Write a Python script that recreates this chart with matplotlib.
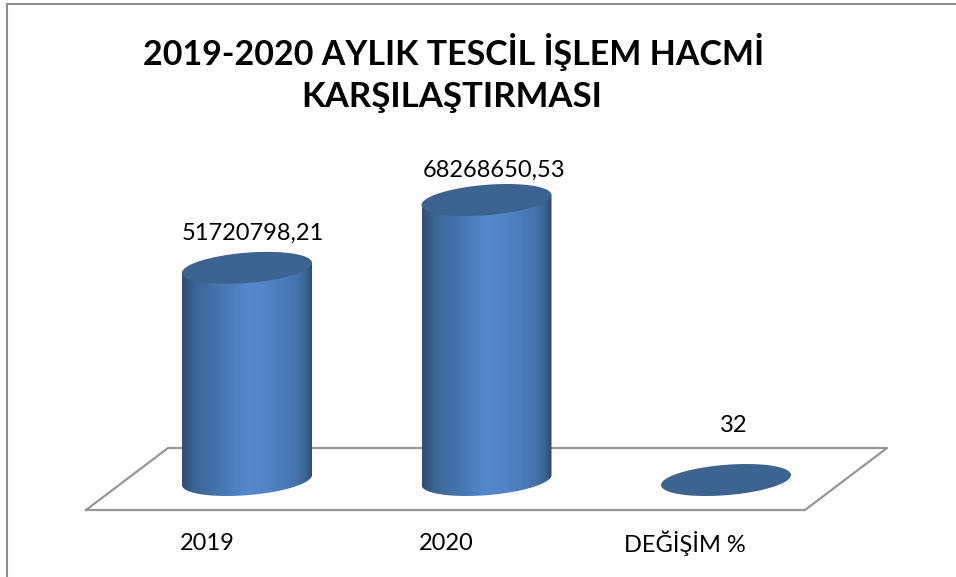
import numpy as np
import matplotlib
matplotlib.use("Agg")
import matplotlib.pyplot as plt
from matplotlib.colors import LinearSegmentedColormap
from matplotlib.patches import PathPatch
from matplotlib.path import Path

categories = ["2019", "2020", "DEĞİŞİM %"]
values = [51720798.21, 68268650.53, 32]
value_labels = ["51720798,21", "68268650,53", "32"]
title_lines = ["2019-2020 AYLIK TESCİL İŞLEM HACMİ", "KARŞILAŞTIRMASI"]

W, H = 956, 577
plt.rcParams['font.family'] = ['Lato', 'DejaVu Sans']

# pixels per unit of the data axes
px_x = 239.5
px_y = 280 / 68268650.53
x0_px, y0_px = 247, 480

# label offsets from the bar top, px
label_dx = [6, 8, 8]
label_dy = [35, 30, 54]
cat_dx = [-40, -40, -41]

fig = plt.figure(figsize=(W / 100, H / 100), dpi=100, facecolor="white")

# background axes in pixels, for frame and floor
bg = fig.add_axes([0, 0, 1, 1])
bg.set_xlim(0, W)
bg.set_ylim(H, 0)
bg.axis("off")
bg.plot([7, 7, W], [H, 3.5, 3.5], color="#8c8c8c", lw=1.5, solid_joinstyle="miter")
bg.plot([86, 805, 887, 168, 86], [510, 510, 448, 448, 510], color="#969696", lw=1.6)

ax = fig.add_axes([0, 0, 1, 1], facecolor="none")
xlim = (-x0_px / px_x, (W - x0_px) / px_x)
ylim = ((y0_px - H) / px_y, y0_px / px_y)
ax.axis("off")

cmap = LinearSegmentedColormap.from_list("cyl", [
    (0.0, "#2f4f78"), (0.1, "#3c6596"), (0.3, "#4776b0"), (0.5, "#5588cc"),
    (0.65, "#5284c6"), (0.87, "#4674ac"), (0.96, "#3a5f8c"), (1.0, "#2c4568"),
])


def ellipse(x, v, t):
    # slightly tilted ellipse, sizes in px, converted to data units
    ex = 65 * np.cos(t) / px_x
    ey = (5 * np.cos(t) + 15.2 * np.sin(t)) / px_y
    return x + ex, v + ey


for i, (cat, val) in enumerate(zip(categories, values)):
    t_low = np.linspace(np.pi, 2 * np.pi, 80)
    xb, yb = ellipse(i, 0, t_low)
    xt, yt = ellipse(i, val, np.array([0.0, np.pi]))
    verts = np.column_stack([np.r_[xb, xt], np.r_[yb, yt]])
    if val > 1000:
        body = PathPatch(Path(np.vstack([verts, verts[0]]), closed=True), fc="none", ec="none", transform=ax.transData)
        ax.add_patch(body)
        im = ax.imshow(np.linspace(0, 1, 256).reshape(1, -1), cmap=cmap, aspect="auto",
                       extent=(i - 65 / px_x, i + 65 / px_x, -20 / px_y, val + 10 / px_y), zorder=2)
        im.set_clip_path(body)
    t = np.linspace(0, 2 * np.pi, 160)
    xe, ye = ellipse(i, val, t)
    ax.fill(xe, ye, color="#3d6390", lw=0, zorder=3)
    ax.annotate(value_labels[i], (i, val), xytext=(label_dx[i], label_dy[i]), textcoords="offset pixels", ha="center",
                va="center", fontsize=17, color="black", zorder=4)
    ax.annotate(cat, (i, 0), xytext=(cat_dx[i], -63), textcoords="offset pixels",
                ha="center", va="center", fontsize=17, color="black")

ax.set_xlim(*xlim)
ax.set_ylim(*ylim)

bg.text(453.5, 52, title_lines[0], ha="center", va="center", fontsize=24.5, fontweight="bold", color="black")
bg.text(452, 97, title_lines[1], ha="center", va="center", fontsize=25, fontweight="bold", color="black")

fig.savefig("out.png", dpi=100)
